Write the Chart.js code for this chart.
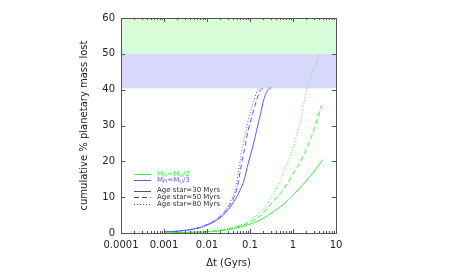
<!DOCTYPE html>
<html>
<head>
<meta charset="utf-8">
<script src="https://cdn.jsdelivr.net/npm/chart.js@4"></script>
<style>
  html, body { margin: 0; padding: 0; background: #fff; }
  #wrap { width: 457px; height: 274px; }
</style>
</head>
<body>
<div id="wrap"><canvas id="masa-grafica"></canvas></div>
<script>
// valores
const xTicks = [0.0001, 0.001, 0.01, 0.1, 1, 10];
const xTickLabels = ['0.0001', '0.001', '0.01', '0.1', '1', '10'];
const yTicks = [0, 10, 20, 30, 40, 50, 60];

// bandas horizontales (limite inferior, limite superior)
const bandaVerde = [50, 60];
const bandaAzul = [40.4, 50];

// M_Pl = M_U/3 (azul)
const azul30x = [0.001, 0.002, 0.004, 0.007, 0.01, 0.015, 0.024, 0.041, 0.058, 0.073, 0.091, 0.116, 0.143, 0.177, 0.205, 0.24, 0.28, 0.31];
const azul30y = [0.3, 0.5, 0.9, 1.5, 2.2, 3.2, 5, 8.5, 11.8, 14.8, 19.5, 24.1, 28.7, 33.4, 36.8, 39.2, 40.3, 40.5];
const azul50x = [0.001, 0.002, 0.004, 0.007, 0.01, 0.015, 0.024, 0.04, 0.05, 0.064, 0.0765, 0.091, 0.116, 0.143, 0.17, 0.21];
const azul50y = [0.3, 0.5, 0.95, 1.6, 2.3, 3.4, 5.4, 9.4, 12.5, 19.5, 24.1, 28.7, 33.4, 37.1, 39.6, 40.5];
const azul80x = [0.001, 0.002, 0.004, 0.007, 0.01, 0.015, 0.024, 0.035, 0.047, 0.058, 0.067, 0.081, 0.1, 0.124, 0.145, 0.175];
const azul80y = [0.3, 0.5, 1.0, 1.7, 2.4, 3.6, 5.8, 8.7, 13, 19.5, 24.1, 28.7, 33.4, 37, 39.5, 40.5];

// M_Pl = M_U/2 (verde)
const verde30x = [0.001, 0.004, 0.017, 0.041, 0.1, 0.2, 0.35, 0.6, 1, 2, 3, 5];
const verde30y = [0.05, 0.2, 0.5, 1.2, 2.5, 4, 6, 8, 10.5, 14.5, 17, 20.5];
const verde50x = [0.001, 0.004, 0.017, 0.04, 0.1, 0.2, 0.3, 0.5, 0.71, 1, 1.45, 1.74, 2.7, 4.65];
const verde50y = [0.05, 0.2, 0.6, 1.4, 3, 5.5, 8, 11, 13.5, 16.5, 19.5, 21.5, 27, 35.7];
const verde80x = [0.001, 0.004, 0.017, 0.04, 0.1, 0.25, 0.35, 0.5, 0.7, 0.93, 1.45, 2.08, 3, 4.25];
const verde80y = [0.05, 0.25, 0.7, 1.6, 3.6, 8, 11, 14.5, 19, 22.5, 30.6, 39.9, 45.5, 49.8];

const verde = '#3cee3c';
const azul = '#5a5aff';
const gris = '#555555';
const fuente = "'DejaVu Sans', sans-serif";

function puntos(xs, ys){
    return xs.map((x, i) => ({x: x, y: ys[i]}));
}

function serie(label, xs, ys, color, dash){
    return {
        label: label,
        data: puntos(xs, ys),
        borderColor: color,
        borderWidth: 1,
        borderDash: dash,
        pointRadius: 0,
        cubicInterpolationMode: 'monotone',
        fill: false
    };
}

const rayas = [5, 3];
const puntitos = [1, 2];

// bandas, marco y marcas hacia adentro
const fondo = {
    id: 'fondo',
    beforeDatasetsDraw(chart){
        const {ctx, chartArea: a, scales: {x, y}} = chart;
        ctx.save();
        ctx.fillStyle = '#d8fcd8';
        ctx.fillRect(a.left, y.getPixelForValue(bandaVerde[1]), a.right - a.left, y.getPixelForValue(bandaVerde[0]) - y.getPixelForValue(bandaVerde[1]));
        ctx.fillStyle = '#d8d8fc';
        ctx.fillRect(a.left, y.getPixelForValue(bandaAzul[1]), a.right - a.left, y.getPixelForValue(bandaAzul[0]) - y.getPixelForValue(bandaAzul[1]));
        ctx.restore();
    },
    afterDatasetsDraw(chart){
        const {ctx, chartArea: a, scales: {x, y}} = chart;
        ctx.save();
        ctx.strokeStyle = gris;
        ctx.lineWidth = 1;
        ctx.beginPath();
        // marcas en y
        yTicks.forEach(v => {
            const py = Math.round(y.getPixelForValue(v)) + 0.5;
            ctx.moveTo(a.left, py); ctx.lineTo(a.left + 4, py);
            ctx.moveTo(a.right, py); ctx.lineTo(a.right - 4, py);
        });
        // marcas en x (mayores y menores)
        for(let d = 0; d < xTicks.length; d++){
            const base = xTicks[d];
            for(let k = 1; k <= 9; k++){
                const v = base * k;
                if(v > xTicks[xTicks.length - 1]) break;
                const px = Math.round(x.getPixelForValue(v)) + 0.5;
                const largo = k === 1 ? 4 : 2;
                ctx.moveTo(px, a.bottom); ctx.lineTo(px, a.bottom - largo);
                ctx.moveTo(px, a.top); ctx.lineTo(px, a.top + largo);
            }
        }
        ctx.stroke();
        ctx.strokeRect(Math.round(a.left) + 0.5, Math.round(a.top) + 0.5, Math.round(a.right - a.left), Math.round(a.bottom - a.top));

        // titulos de ejes
        ctx.fillStyle = '#222';
        ctx.font = '10px ' + fuente;
        ctx.textAlign = 'center';
        ctx.textBaseline = 'middle';
        ctx.fillText('\u0394t (Gyrs)', (a.left + a.right) / 2, 263);
        ctx.translate(84, (a.top + a.bottom) / 2);
        ctx.rotate(-Math.PI / 2);
        ctx.fillText('cumulative % planetary mass lost', 0, 0);
        ctx.restore();
        leyenda(ctx);
    }
};

// leyenda con subindices
function leyenda(ctx){
    const x0 = 134, x1 = 151, xt = 157;
    ctx.save();
    ctx.lineWidth = 1;
    const filas = [
        {y: 174, color: verde, dash: [], texto: [['M', 0], ['Pl', 1], ['=M', 0], ['U', 1], ['/2', 0]], tcolor: verde},
        {y: 180, color: azul, dash: [], texto: [['M', 0], ['Pl', 1], ['=M', 0], ['U', 1], ['/3', 0]], tcolor: azul},
        {y: 190.5, color: gris, dash: [], texto: [['Age star=30 Myrs', 0]], tcolor: '#333'},
        {y: 197, color: gris, dash: rayas, texto: [['Age star=50 Myrs', 0]], tcolor: '#333'},
        {y: 204, color: gris, dash: puntitos, texto: [['Age star=80 Myrs', 0]], tcolor: '#333'}
    ];
    filas.forEach(f => {
        ctx.strokeStyle = f.color;
        ctx.setLineDash(f.dash);
        ctx.beginPath();
        ctx.moveTo(x0, Math.round(f.y) + 0.5); ctx.lineTo(x1, Math.round(f.y) + 0.5);
        ctx.stroke();
        ctx.fillStyle = f.tcolor;
        ctx.textBaseline = 'middle';
        ctx.textAlign = 'left';
        let cx = xt;
        f.texto.forEach(([t, sub]) => {
            ctx.font = (sub ? '5px ' : '7px ') + fuente;
            ctx.fillText(t, cx, f.y + (sub ? 2 : 0));
            cx += ctx.measureText(t).width;
        });
    });
    ctx.restore();
}

const ctx = document.getElementById('masa-grafica').getContext('2d');
new Chart(ctx, {
    type: 'line',
    data: {
        datasets: [
            serie('Mpl=Mu/2 30', verde30x, verde30y, verde, []),
            serie('Mpl=Mu/2 50', verde50x, verde50y, verde, rayas),
            serie('Mpl=Mu/2 80', verde80x, verde80y, verde, puntitos),
            serie('Mpl=Mu/3 30', azul30x, azul30y, azul, []),
            serie('Mpl=Mu/3 50', azul50x, azul50y, azul, rayas),
            serie('Mpl=Mu/3 80', azul80x, azul80y, azul, puntitos)
        ]
    },
    options: {
        responsive: true,
        maintainAspectRatio: false,
        animation: false,
        layout: {padding: {top: 18, right: 121, left: 0, bottom: 0}},
        scales: {
            x: {
                type: 'logarithmic',
                min: xTicks[0],
                max: xTicks[xTicks.length - 1],
                afterBuildTicks: s => { s.ticks = xTicks.map(v => ({value: v})); },
                afterFit: s => { s.height = 41; },
                grid: {display: false, drawTicks: false},
                border: {display: false},
                ticks: {
                    autoSkip: false,
                    maxRotation: 0,
                    padding: 6,
                    color: '#222',
                    font: {family: fuente, size: 10},
                    callback: (v, i) => xTickLabels[i]
                }
            },
            y: {
                min: yTicks[0],
                max: yTicks[yTicks.length - 1],
                afterBuildTicks: s => { s.ticks = yTicks.map(v => ({value: v})); },
                afterFit: s => { s.width = 121; },
                grid: {display: false, drawTicks: false},
                border: {display: false},
                ticks: {
                    padding: 6,
                    color: '#222',
                    font: {family: fuente, size: 10}
                }
            }
        },
        plugins: {legend: {display: false}, tooltip: {enabled: false}}
    },
    plugins: [fondo]
});
</script>
</body>
</html>
